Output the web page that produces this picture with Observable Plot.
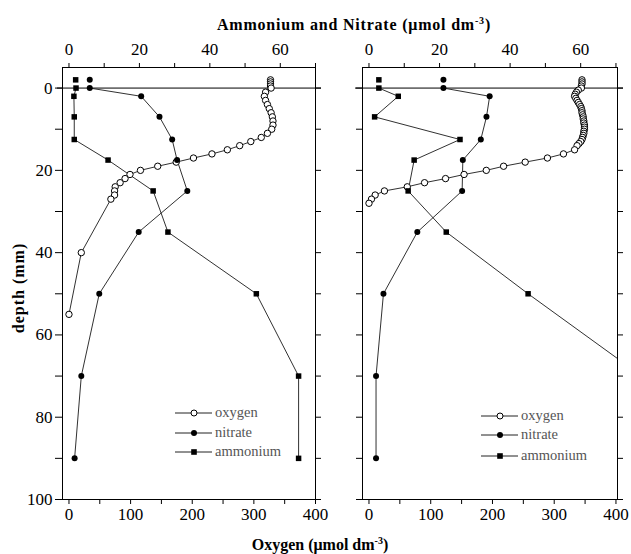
<!DOCTYPE html>
<html><head><meta charset="utf-8">
<script src="https://cdn.jsdelivr.net/npm/d3@7"></script>
<script src="https://cdn.jsdelivr.net/npm/@observablehq/plot@0.6"></script>
<style>
body{margin:0;background:#fff;}
#wrap{position:relative;width:631px;height:554px;overflow:hidden;font-family:"Liberation Serif",serif;color:#000;}
.pl{position:absolute;top:0;}
.t{position:absolute;font-weight:bold;font-size:16px;white-space:nowrap;line-height:1;}
.t sup{font-size:10px;vertical-align:6px;line-height:0;}
.lg{position:absolute;font-size:14.5px;color:#555;white-space:nowrap;line-height:1;}
</style></head>
<body><div id="wrap"></div>
<script>
// ---------- data ----------
// nutrient sampling depths (mm); -2 = overlying water
const nutrientDepths = [-2, 0, 2, 7, 12.5, 17.5, 25, 35, 50, 70, 90];
// left panel (µmol dm-3)
const nitrateLeft  = [5.9, 5.9, 20.5, 25.7, 29.3, 30.7, 33.6, 19.8, 8.6, 3.5, 1.6];
const ammoniumLeft = [1.9, 2.0, 1.4, 1.5, 1.5, 11.1, 23.9, 28.1, 53.2, 65.2, 65.2];
// right panel
const nitrateRight  = [21.1, 21.1, 34.2, 33.3, 31.7, 26.6, 26.4, 13.7, 4.1, 2.0, 2.0];
const ammoniumRight = [2.8, 2.8, 8.3, 1.6, 25.8, 12.8, 11.1, 21.9, 45.1, 77.3, null];

// oxygen profiles
const oxygenDepthsLeft = [-2, -1.5, -1, -0.5, 0, 1, 2, 3, 4, 5, 6, 7, 8, 9, 10, 11, 12, 13, 14, 15, 16, 17, 18, 19, 20, 21, 22, 23, 24, 25, 26, 27, 40, 55];
const oxygenLeft = [327, 327, 327, 327, 328, 319, 317, 319, 322, 325, 328, 330, 331, 331, 329, 322, 312, 295, 277, 257, 232, 202, 174, 144, 116, 99, 91, 83, 75, 74, 74, 68, 20, 0];

const oxygenDepthsRight = [-2, -1.5, -1, -0.5, 0, 0.5, 1, 1.5, 2, 2.5, 3, 3.5, 4, 4.5, 5, 5.5, 6, 6.5, 7, 7.5, 8, 8.5, 9, 9.5, 10, 10.5, 11, 11.5, 12, 12.5, 13, 13.5, 14, 15, 16, 17, 18, 19, 20, 21, 22, 23, 24, 25, 26, 27, 28];
const oxygenRight = [345, 345, 345, 344, 344, 339, 336, 334, 333, 335, 337, 339, 341, 343, 344, 345, 345, 346, 347, 347, 348, 348, 349, 349, 349, 348, 348, 347, 346, 345, 343, 340, 337, 333, 315, 289, 253, 218, 190, 154, 124, 90, 62, 25, 10, 4, 0];

// axis ticks
const depthMajor = [0, 20, 40, 60, 80, 100];
const depthMinor = [10, 30, 50, 70, 90];
const depthAll = [0, 10, 20, 30, 40, 50, 60, 70, 80, 90, 100];
const oxygenMajor = [0, 100, 200, 300, 400];
const oxygenMinor = [50, 150, 250, 350];
const nutrientMajor = [0, 20, 40, 60];
const nutrientMinor = [10, 30, 50, 70];

const seriesNames = ["oxygen", "nitrate", "ammonium"];

// nutrient axis maps 0–70 onto oxygen 0–400
const K = 400 / 70;

function rows(depths, vals) {
  return depths.map((d, i) => ({depth: d, v: vals[i]})).filter(r => r.v != null);
}

function panel({left, width, marginLeft, marginRight, xmax, oxy, nit, amm, showLabels, ruleInsetL, ruleInsetR}) {
  const lineStyle = {stroke: "#1a1a1a", strokeWidth: 0.9};
  const marks = [
    Plot.ruleY([0], {stroke: "black", strokeWidth: 1, insetLeft: ruleInsetL, insetRight: ruleInsetR}),
    Plot.line(oxy, {x: "v", y: "depth", ...lineStyle}),
    Plot.line(nit.filter(d => d.depth >= 0), {x: d => d.v * K, y: "depth", ...lineStyle}),
    Plot.line(amm.filter(d => d.depth >= 0), {x: d => d.v * K, y: "depth", ...lineStyle, clip: true}),
    Plot.dot(oxy, {x: "v", y: "depth", r: 3.2, fill: "white", stroke: "black", strokeWidth: 1}),
    Plot.dot(nit, {x: d => d.v * K, y: "depth", r: 3, fill: "black"}),
    Plot.dot(amm, {x: d => d.v * K, y: "depth", r: 3.1, symbol: "square", fill: "black", clip: true}),
    Plot.frame({stroke: "black", strokeWidth: 1}),
    Plot.axisX({anchor: "bottom", ticks: oxygenMajor, tickSize: 5, tickPadding: 3, label: null}),
    Plot.axisX({anchor: "bottom", ticks: oxygenMinor, tickSize: 5, tickFormat: () => "", label: null}),
    Plot.axisX({anchor: "top", ticks: nutrientMajor.map(v => v * K), tickFormat: d => Math.round(d / K), tickSize: 5, tickPadding: 8, label: null}),
    Plot.axisX({anchor: "top", ticks: nutrientMinor.map(v => v * K), tickFormat: () => "", tickSize: 5, label: null}),
    Plot.axisY({anchor: "right", ticks: depthAll, tickSize: 5, tickFormat: () => "", label: null})
  ];
  if (showLabels) {
    marks.push(Plot.axisY({anchor: "left", ticks: depthMajor, tickSize: 7, tickPadding: 3, label: null}));
    marks.push(Plot.axisY({anchor: "left", ticks: depthMinor, tickSize: 7, tickFormat: () => "", label: null}));
  } else {
    marks.push(Plot.axisY({anchor: "left", ticks: depthAll, tickSize: 6, tickFormat: () => "", label: null}));
  }
  const svg = Plot.plot({
    width, height: 530,
    marginLeft, marginRight, marginTop: 67, marginBottom: 31,
    x: {domain: [-10.5, xmax]},
    y: {domain: [-5, 100], reverse: true},
    style: {fontFamily: "Liberation Serif, serif", fontSize: "17px", color: "black", background: "transparent", overflow: "visible"},
    marks
  });
  svg.classList.add("pl");
  svg.style.left = left + "px";
  return svg;
}

const wrap = document.getElementById("wrap");
wrap.appendChild(panel({left: 0, width: 330, marginLeft: 62, marginRight: 15, xmax: 400,
  oxy: rows(oxygenDepthsLeft, oxygenLeft), nit: rows(nutrientDepths, nitrateLeft), amm: rows(nutrientDepths, ammoniumLeft),
  showLabels: true, ruleInsetL: -5, ruleInsetR: -6}));
wrap.appendChild(panel({left: 300, width: 331, marginLeft: 62, marginRight: 14, xmax: 402.5,
  oxy: rows(oxygenDepthsRight, oxygenRight), nit: rows(nutrientDepths, nitrateRight), amm: rows(nutrientDepths, ammoniumRight),
  showLabels: false, ruleInsetL: -7, ruleInsetR: -6}));

// titles
function addText(html, cls, css) {
  const d = document.createElement("div");
  d.className = cls; d.innerHTML = html;
  Object.assign(d.style, css);
  wrap.appendChild(d);
  return d;
}
addText("Ammonium and Nitrate (μmol dm<sup>-3</sup>)", "t", {left: "354px", top: "17px", transform: "translateX(-50%)", letterSpacing: "0.8px"});
addText("Oxygen (μmol dm<sup>-3</sup>)", "t", {left: "320px", top: "537px", transform: "translateX(-50%)"});
addText("depth (mm)", "t", {left: "19px", top: "288px", transform: "translate(-50%,-50%) rotate(-90deg)", letterSpacing: "1px"});

// legends
function legend(x0, ys) {
  const symbols = [
    '<circle cx="19" cy="6" r="3" fill="white" stroke="black"/>',
    '<circle cx="19" cy="6" r="3" fill="black"/>',
    '<rect x="16.2" y="3.2" width="5.6" height="5.6" fill="black"/>'
  ];
  seriesNames.forEach((name, i) => {
    const s = document.createElementNS("http://www.w3.org/2000/svg", "svg");
    s.setAttribute("width", 38); s.setAttribute("height", 12);
    s.innerHTML = '<line x1="0" x2="37" y1="6" y2="6" stroke="#222" stroke-width="1"/>' + symbols[i];
    Object.assign(s.style, {position: "absolute", left: x0 + "px", top: (ys[i] - 6) + "px"});
    wrap.appendChild(s);
    addText(name, "lg", {left: (x0 + 40) + "px", top: (ys[i] - 8) + "px"});
  });
}
legend(175, [413, 432.5, 452]);
legend(481, [415.5, 435, 456]);
</script>
</body></html>
